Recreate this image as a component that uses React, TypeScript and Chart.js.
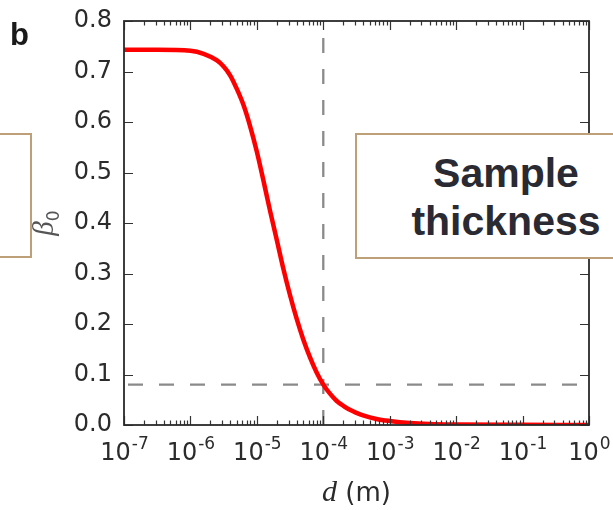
import React, { useEffect, useRef } from "react";
import { Chart, registerables } from "chart.js";

Chart.register(...registerables);

// thickness d (m) and beta_0
const dValues = [
  1e-7, 3.16e-7, 1e-6, 1.58e-6, 2.51e-6, 3.16e-6, 3.98e-6, 5.01e-6, 6.31e-6, 7.94e-6,
  1e-5, 1.26e-5, 1.58e-5, 2e-5, 2.51e-5, 3.16e-5, 3.98e-5, 5.01e-5, 6.31e-5, 7.94e-5,
  1e-4, 1.26e-4, 1.58e-4, 2e-4, 2.51e-4, 3.16e-4, 3.98e-4, 6.31e-4, 1e-3, 2e-3,
  3.98e-3, 1e-2, 1e-1, 1,
];
const beta0 = [
  0.743, 0.743, 0.741, 0.735, 0.722, 0.71, 0.692, 0.665, 0.633, 0.591,
  0.541, 0.483, 0.424, 0.366, 0.309, 0.257, 0.21, 0.169, 0.134, 0.104,
  0.08, 0.062, 0.048, 0.038, 0.03, 0.024, 0.019, 0.012, 0.008, 0.004,
  0.002, 0.001, 0.0003, 0.0001,
];

// reference lines
const sampleThicknessD = [1e-4, 1e-4];
const sampleThicknessY = [0, 0.8];
const thresholdD = [1e-7, 1];
const thresholdY = [0.08, 0.08];

const xDecades = [1e-7, 1e-6, 1e-5, 1e-4, 1e-3, 1e-2, 1e-1, 1];
const xExponents = ["-7", "-6", "-5", "-4", "-3", "-2", "-1", "0"];
const yTicks = [0, 0.1, 0.2, 0.3, 0.4, 0.5, 0.6, 0.7, 0.8];

const TEXT = "#2b2b2b";

const decorPlugin = {
  id: "decor",
  afterDatasetsDraw(chart: any) {
    const { ctx, chartArea: a, scales } = chart;
    const xs = scales.x, ys = scales.y;
    ctx.save();
    ctx.strokeStyle = "#333";
    ctx.lineWidth = 1.2;
    const drawX = (v: number, len: number) => {
      const px = Math.round(xs.getPixelForValue(v)) + 0.5;
      ctx.beginPath();
      ctx.moveTo(px, a.bottom); ctx.lineTo(px, a.bottom - len);
      ctx.moveTo(px, a.top); ctx.lineTo(px, a.top + len);
      ctx.stroke();
    };
    xDecades.forEach((d, i) => {
      drawX(d, 9);
      if (i < xDecades.length - 1) {
        for (let m = 2; m <= 9; m++) drawX(d * m, 4.5);
      }
    });
    yTicks.forEach((v) => {
      const py = Math.round(ys.getPixelForValue(v)) + 0.5;
      ctx.beginPath();
      ctx.moveTo(a.left, py); ctx.lineTo(a.left + 9, py);
      ctx.moveTo(a.right, py); ctx.lineTo(a.right - 9, py);
      ctx.stroke();
    });
    ctx.lineWidth = 1.8;
    ctx.strokeStyle = "#2a2a2a";
    ctx.strokeRect(a.left, a.top, a.right - a.left, a.bottom - a.top);

    // x tick labels 10^n with raised exponent
    ctx.fillStyle = TEXT;
    ctx.textBaseline = "alphabetic";
    ctx.textAlign = "left";
    const baseFont = "24px 'DejaVu Sans'";
    const supFont = "17px 'DejaVu Sans'";
    xDecades.forEach((d, i) => {
      const px = xs.getPixelForValue(d);
      ctx.font = baseFont; const wb = ctx.measureText("10").width;
      ctx.font = supFont; const ws = ctx.measureText(xExponents[i]).width;
      const x0 = px - (wb + ws) / 2;
      ctx.font = baseFont; ctx.fillText("10", x0, a.bottom + 35);
      ctx.font = supFont; ctx.fillText(xExponents[i], x0 + wb + 1, a.bottom + 24);
    });

    // x title: d (m)
    const f1 = "italic 30px 'Liberation Serif'";
    const f2 = "26px 'DejaVu Sans'";
    ctx.font = f1; const w1 = ctx.measureText("d").width;
    ctx.font = f2; const w2 = ctx.measureText(" (m)").width;
    const cx = (a.left + a.right) / 2;
    const sx = cx - (w1 + w2) / 2;
    ctx.font = f1; ctx.fillText("d", sx, 501);
    ctx.font = f2; ctx.fillText(" (m)", sx + w1, 501);

    // y title: beta_0 rotated
    ctx.save();
    ctx.translate(53, (a.top + a.bottom) / 2);
    ctx.rotate(-Math.PI / 2);
    ctx.fillStyle = "#555";
    const g1 = "italic 29px 'Liberation Serif'";
    const g2 = "17px 'DejaVu Sans'";
    ctx.font = g1; const b1 = ctx.measureText("\u03B2").width;
    ctx.font = g2; const b2 = ctx.measureText("0").width;
    const bx = -(b1 + b2) / 2;
    ctx.font = g1; ctx.fillText("\u03B2", bx, 0);
    ctx.font = g2; ctx.fillText("0", bx + b1, 6);
    ctx.restore();

    // panel label
    ctx.fillStyle = "#1a1a1a";
    ctx.font = "bold 31px 'Liberation Sans'";
    ctx.fillText("b", 10, 45);
    ctx.restore();
  },
};

export default function App() {
  const ref = useRef<HTMLCanvasElement | null>(null);
  useEffect(() => {
    if (!ref.current) return;
    const chart = new Chart(ref.current, {
      type: "line",
      data: {
        datasets: [
          {
            data: dValues.map((d, i) => ({ x: d, y: beta0[i] })),
            borderColor: "#ff0000",
            borderWidth: 4.5,
            pointRadius: 0,
            cubicInterpolationMode: "monotone",
            order: 0,
          },
          {
            data: sampleThicknessD.map((d, i) => ({ x: d, y: sampleThicknessY[i] })),
            borderColor: "#8a8a8a",
            borderWidth: 2.3,
            borderDash: [15, 16],
            pointRadius: 0,
            order: 1,
          },
          {
            data: thresholdD.map((d, i) => ({ x: d, y: thresholdY[i] })),
            borderColor: "#8a8a8a",
            borderWidth: 2.3,
            borderDash: [15, 16],
            borderDashOffset: -4,
            pointRadius: 0,
            order: 1,
          },
        ],
      },
      options: {
        animation: false,
        responsive: false,
        maintainAspectRatio: false,
        layout: { padding: { left: 0, right: 24, top: 21, bottom: 0 } },
        plugins: { legend: { display: false }, tooltip: { enabled: false } },
        scales: {
          x: {
            type: "logarithmic",
            min: 1e-7,
            max: 1,
            grid: { display: false, drawTicks: false },
            border: { display: false },
            afterBuildTicks: (s: any) => {
              s.ticks = xDecades.map((v) => ({ value: v }));
            },
            afterFit: (s: any) => {
              s.height = 85;
              s.paddingLeft = 0;
              s.paddingRight = 0;
            },
            ticks: { display: false },
          },
          y: {
            min: 0,
            max: 0.8,
            grid: { display: false, drawTicks: false },
            border: { display: false },
            afterBuildTicks: (s: any) => {
              s.ticks = yTicks.map((v) => ({ value: v }));
            },
            afterFit: (s: any) => {
              s.width = 124;
              s.paddingTop = 0;
              s.paddingBottom = 0;
            },
            ticks: {
              padding: 12,
              color: TEXT,
              font: { family: "DejaVu Sans", size: 24 },
              callback: (v: any) => Number(v).toFixed(1),
            },
          },
        },
      },
      plugins: [decorPlugin],
    });
    return () => chart.destroy();
  }, []);

  const boxBorder = "2px solid #bd9f78";
  return (
    <div style={{ position: "fixed", left: 0, top: 0, width: 613, height: 510, background: "#fff", overflow: "hidden" }}>
      <canvas ref={ref} width={613} height={510} style={{ display: "block", width: 613, height: 510 }} />
      <div style={{ position: "absolute", left: -4, top: 133, width: 32, height: 121, border: boxBorder, background: "#fff" }} />
      <div style={{ position: "absolute", left: 355, top: 133, width: 320, height: 122, border: boxBorder, background: "#fff" }} />
      <div
        style={{
          position: "absolute",
          left: 356,
          top: 149,
          width: 300,
          textAlign: "center",
          fontFamily: "'Liberation Sans', Arial, sans-serif",
          fontWeight: "bold",
          fontSize: 41,
          lineHeight: "48px",
          color: "#2a2a33",
        }}
      >
        Sample
        <br />
        thickness
      </div>
    </div>
  );
}
